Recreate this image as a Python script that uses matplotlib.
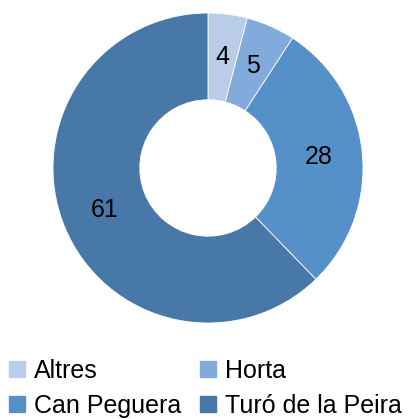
import matplotlib.pyplot as plt
import matplotlib.patches as mpatches

plt.rcParams['font.family'] = ['Liberation Sans', 'DejaVu Sans']

barris = ["Altres", "Horta", "Can Peguera", "Turó de la Peira"]
valors = [4, 5, 28, 61]
colors = ["#b9cde8", "#82aadb", "#5591c8", "#4878a8"]

fig = plt.figure(figsize=(4.11, 4.19), dpi=100)
ax = fig.add_axes([53 / 411, 96 / 419, 310 / 411, 310 / 419])

wedges, textos = ax.pie(valors, colors=colors, startangle=90, counterclock=False,
                        radius=1, wedgeprops=dict(width=0.56, edgecolor="white", linewidth=0.6),
                        labels=[str(v) for v in valors], labeldistance=0.72)
for t in textos:
    t.set_fontsize(18)
    t.set_ha("center")
    t.set_va("center")
ax.set_xlim(-1, 1)
ax.set_ylim(-1, 1)
ax.set_aspect("equal")
ax.axis("off")

# legend: rows Altres/Horta, Can Peguera/Turó
handles = [mpatches.Patch(color=c) for c in colors]
ordre = [0, 2, 1, 3]
fig.legend([handles[i] for i in ordre], [barris[i] for i in ordre], ncol=2,
           loc="upper left", bbox_to_anchor=(0.015, 0.15), frameon=False,
           fontsize=18, handlelength=0.65, handleheight=0.65, handletextpad=0.35,
           columnspacing=0.75, labelspacing=0.45, borderaxespad=0, borderpad=0.1)

fig.savefig("out.png", dpi=100)
